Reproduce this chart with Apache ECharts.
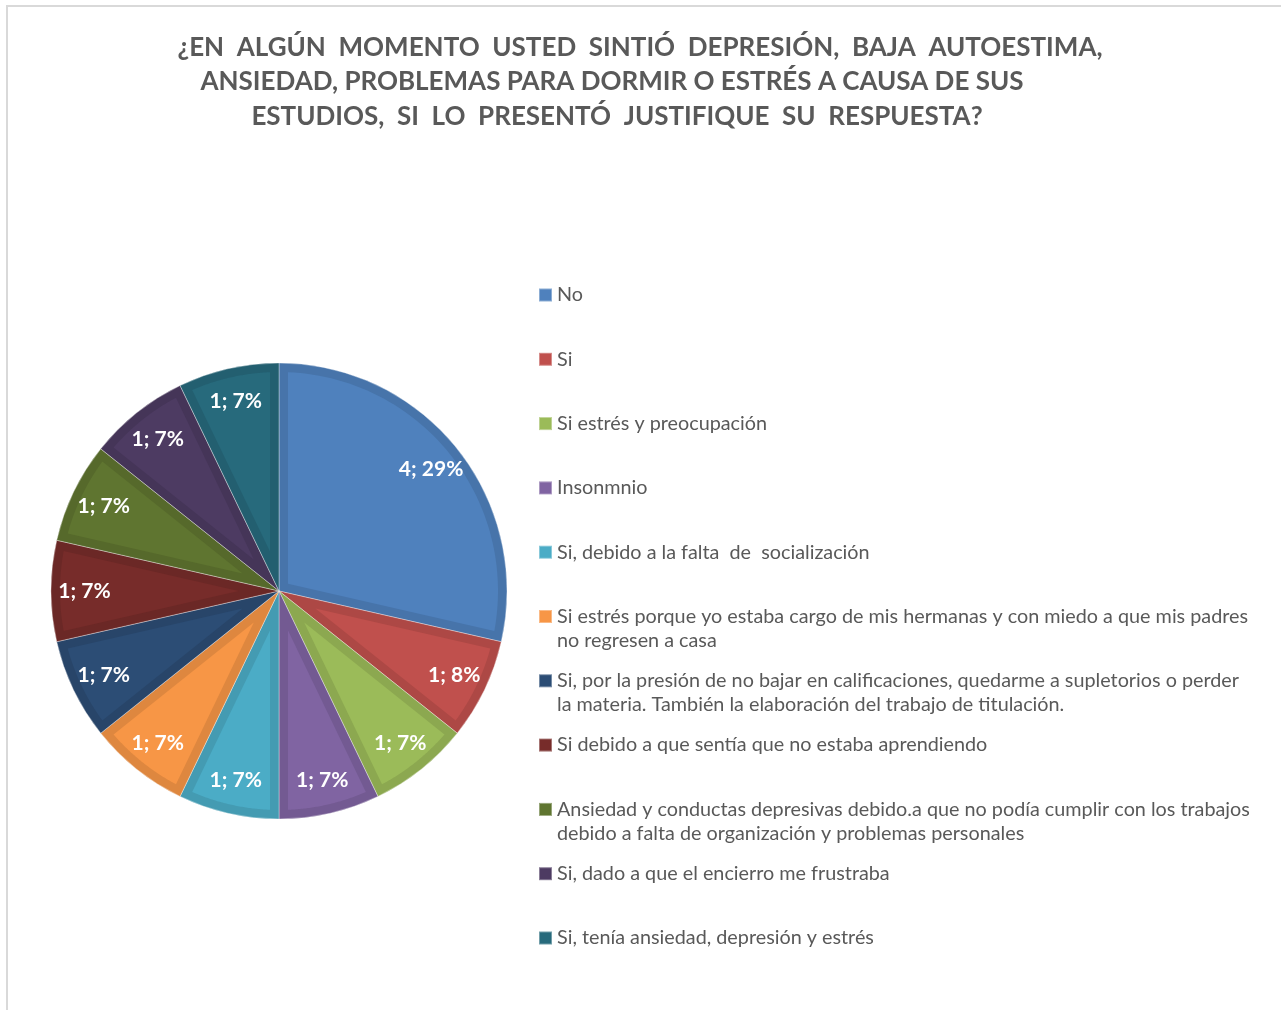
<!DOCTYPE html>
<html>
<head>
<meta charset="utf-8">
<script src="https://cdn.jsdelivr.net/npm/echarts@6/dist/echarts.min.js"></script>
<style>
  html, body { margin: 0; padding: 0; background: #fff; }
  #chart { width: 1281px; height: 1010px; }
  #frame {
    position: absolute; left: 6px; top: 5px; right: 0; bottom: 0;
    border-left: 2px solid #d9d9d9; border-top: 2px solid #d9d9d9;
    pointer-events: none;
  }
</style>
</head>
<body>
<div id="chart"></div>
<div id="frame"></div>
<script>
// categorias y valores
const categories = [
  'No',
  'Si',
  'Si estrés y preocupación',
  'Insonmnio',
  'Si, debido a la falta  de  socialización',
  'Si estrés porque yo estaba cargo de mis hermanas y con miedo a que mis padres no regresen a casa',
  'Si, por la presión de no bajar en calificaciones, quedarme a supletorios o perder la materia. También la elaboración del trabajo de titulación.',
  'Si debido a que sentía que no estaba aprendiendo',
  'Ansiedad y conductas depresivas debido.a que no podía cumplir con los trabajos debido a falta de organización y problemas personales',
  'Si, dado a que el encierro me frustraba',
  'Si, tenía ansiedad, depresión y estrés',
]
const values = [4, 1, 1, 1, 1, 1, 1, 1, 1, 1, 1]

// texto de la leyenda con los saltos de linea como en el original
const legendText = [
  'No',
  'Si',
  'Si estrés y preocupación',
  'Insonmnio',
  'Si, debido a la falta  de  socialización',
  'Si estrés porque yo estaba cargo de mis hermanas y con miedo a que mis padres\nno regresen a casa',
  'Si, por la presión de no bajar en calificaciones, quedarme a supletorios o perder\nla materia. También la elaboración del trabajo de titulación.',
  'Si debido a que sentía que no estaba aprendiendo',
  'Ansiedad y conductas depresivas debido.a que no podía cumplir con los trabajos\ndebido a falta de organización y problemas personales',
  'Si, dado a que el encierro me frustraba',
  'Si, tenía ansiedad, depresión y estrés',
]

const titleLines = [
  '¿EN  ALGÚN  MOMENTO  USTED  SINTIÓ  DEPRESIÓN,  BAJA  AUTOESTIMA,',
  'ANSIEDAD, PROBLEMAS PARA DORMIR O ESTRÉS A CAUSA DE SUS',
  'ESTUDIOS,  SI  LO  PRESENTÓ  JUSTIFIQUE  SU  RESPUESTA?',
]

const colors = [
  '#4F81BD', '#C0504D', '#9BBB59', '#8064A2', '#4BACC6', '#F79646',
  '#2C4D75', '#772C2A', '#5F7530', '#4D3B62', '#276A7C',
]

const FONT = 'Lato'
const CX = 279
const CY = 591
const R = 228
const EDGE = 9

// color un poco mas oscuro para el borde de cada sector
const darken = (hex, k) => {
  const n = parseInt(hex.slice(1), 16)
  const r = Math.round(((n >> 16) & 255) * k)
  const g = Math.round(((n >> 8) & 255) * k)
  const b = Math.round((n & 255) * k)
  return 'rgb(' + r + ',' + g + ',' + b + ')'
}

const total = values.reduce((a, b) => a + b, 0)

// relleno interior de cada sector, separado del borde EDGE px (como el efecto de Excel)
const renderInner = (params, api) => {
  const i = params.dataIndex
  let before = 0
  for (let k = 0; k < i; k++) before += values[k]
  const a0 = (before / total) * Math.PI * 2
  const a1 = ((before + api.value(0)) / total) * Math.PI * 2
  const h = (a1 - a0) / 2
  const m = a0 + h
  const r2 = R - EDGE
  const d = EDGE / Math.sin(Math.min(h, Math.PI / 2))
  const px = d * Math.sin(m)
  const py = -d * Math.cos(m)
  const t = -d * Math.cos(h) + Math.sqrt(r2 * r2 - EDGE * EDGE)
  const q0x = px + t * Math.sin(a0)
  const q0y = py - t * Math.cos(a0)
  const q1x = px + t * Math.sin(a1)
  const q1y = py - t * Math.cos(a1)
  const f0 = Math.atan2(q0x, -q0y)
  let f1 = Math.atan2(q1x, -q1y)
  if (f1 < f0) f1 += Math.PI * 2
  const pts = [[CX + px, CY + py]]
  const steps = 60
  for (let s = 0; s <= steps; s++) {
    const f = f0 + ((f1 - f0) * s) / steps
    pts.push([CX + r2 * Math.sin(f), CY - r2 * Math.cos(f)])
  }
  return {
    type: 'polygon',
    shape: { points: pts },
    style: { fill: colors[i] },
  }
}

const titleX = [640, 612, 617]
const titleY = [48, 82, 117]
const titles = titleLines.map((t, i) => ({
  text: t,
  left: titleX[i],
  top: titleY[i],
  textAlign: 'center',
  textVerticalAlign: 'middle',
  padding: 0,
  textStyle: {
    fontFamily: FONT,
    fontSize: 26,
    fontWeight: 'bold',
    color: '#595959',
  },
}))

const LH = 24
const legends = categories.map((name, i) => {
  const wrapped = legendText[i].indexOf('\n') >= 0
  const y = 295 + i * 64.3
  return {
    data: [{ name: name, itemStyle: { color: colors[i] } }],
    left: 538,
    top: y - (wrapped ? LH * 1.5 : LH / 2),
    padding: 0,
    icon: 'rect',
    itemWidth: 13,
    itemHeight: 13,
    selectedMode: false,
    // linea vacia arriba para que el icono quede junto a la primera linea
    formatter: () => (wrapped ? ' \n' : '') + legendText[i],
    textStyle: {
      fontFamily: FONT,
      fontSize: 19.8,
      color: '#595959',
      lineHeight: LH,
    },
  }
})

const options = {
  backgroundColor: '#fff',
  title: titles,
  legend: legends,
  series: [
    {
      // sectores completos con el tono oscuro (borde)
      type: 'pie',
      name: 'borde',
      center: [CX, CY],
      radius: [0, R],
      startAngle: 90,
      clockwise: true,
      silent: true,
      label: { show: false },
      labelLine: { show: false },
      itemStyle: { borderColor: 'rgba(255,255,255,0.35)', borderWidth: 1 },
      data: categories.map((name, i) => ({
        name: name,
        value: values[i],
        itemStyle: { color: darken(colors[i], 0.9) },
      })),
      z: 1,
    },
    {
      type: 'custom',
      name: 'relleno',
      coordinateSystem: 'none',
      silent: true,
      renderItem: renderInner,
      data: values.map((v) => [v]),
      z: 2,
    },
    {
      // solo etiquetas
      type: 'pie',
      name: 'etiquetas',
      center: [CX, CY],
      radius: [R * 0.68, R],
      startAngle: 90,
      silent: true,
      percentPrecision: 0,
      itemStyle: { color: 'rgba(0,0,0,0)' },
      label: {
        show: true,
        position: 'inside',
        formatter: '{c}; {d}%',
        fontFamily: FONT,
        fontSize: 21,
        fontWeight: 'bold',
        color: '#fff',
      },
      labelLine: { show: false },
      data: categories.map((name, i) => ({ name: name, value: values[i] })),
      z: 3,
    },
  ],
}

const chart = echarts.init(document.getElementById('chart'))
chart.setOption(options)
window.onresize = function () {
  chart.resize()
}
</script>
</body>
</html>
